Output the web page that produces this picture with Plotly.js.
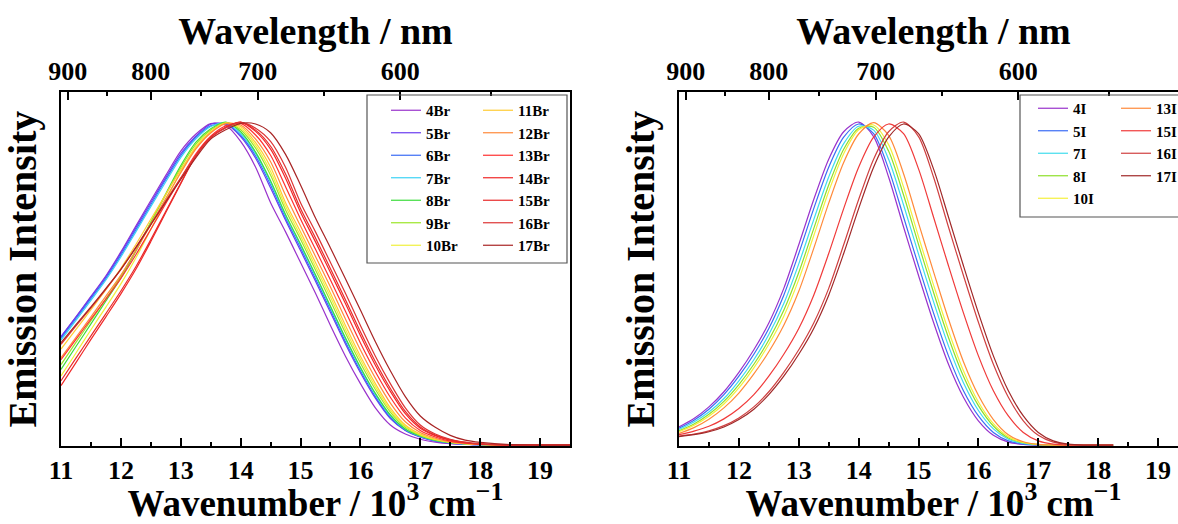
<!DOCTYPE html>
<html><head><meta charset="utf-8">
<script src="https://cdn.plot.ly/plotly-3.0.1.min.js"></script>
<style>html,body{margin:0;padding:0;overflow:hidden;background:#fff}#chart{width:1200px;height:524px}</style>
</head><body><div id="chart"></div>
<script>
// ---------- data (normalised emission intensity vs wavenumber / 10^3 cm^-1) ----------
const wnBr = [11,11.25,11.5,11.75,12,12.25,12.5,12.75,13,13.25,13.5,13.75,14,14.25,14.5,14.75,15,15.25,15.5,15.75,16,16.25,16.5,16.75,17,17.25,17.5,17.75,18,18.5,19,19.5];
const namesBr = ['4Br','5Br','6Br','7Br','8Br','9Br','10Br','11Br','12Br','13Br','14Br','15Br','16Br','17Br'];
const colorsBr = ['#9932cc','#6a3cf0','#3a6cf5','#3cd2f5','#3cdc3c','#9be628','#f0f03c','#ffcc33','#ff8a3a','#ff3030','#f02828','#e82a2a','#dd3434','#a82424'];
const br4  = [.335,.397,.46,.524,.598,.678,.757,.835,.91,.962,.995,.99,.94,.86,.75,.66,.565,.47,.37,.275,.19,.115,.062,.034,.018,.009,.004,.002,.001,0,0,0];
const br5  = [.335,.396,.458,.521,.594,.673,.751,.828,.902,.956,.993,.994,.955,.888,.796,.696,.602,.507,.41,.313,.224,.145,.082,.045,.024,.012,.006,.003,.001,0,0,0];
const br6  = [.330,.391,.453,.516,.588,.666,.744,.822,.896,.952,.988,.995,.959,.895,.805,.703,.610,.515,.418,.320,.230,.150,.086,.046,.026,.013,.006,.003,.001,0,0,0];
const br7  = [.325,.386,.448,.511,.582,.660,.738,.815,.89,.947,.986,.997,.964,.902,.813,.71,.618,.523,.426,.328,.237,.157,.09,.049,.027,.014,.007,.003,.0015,0,0,0];
const br8  = [.234,.305,.375,.446,.517,.60,.69,.778,.865,.937,.979,1.0,.97,.907,.818,.714,.622,.527,.43,.332,.241,.16,.093,.05,.028,.0145,.007,.0035,.0015,0,0,0];
const br9  = [.249,.318,.385,.453,.522,.603,.69,.775,.859,.931,.975,.998,.976,.919,.835,.728,.637,.542,.446,.347,.254,.172,.102,.055,.03,.016,.008,.004,.002,0,0,0];
const br10 = [.214,.285,.357,.427,.499,.579,.668,.758,.846,.925,.971,.997,.981,.928,.847,.739,.648,.553,.458,.358,.265,.181,.108,.058,.032,.017,.009,.004,.002,0,0,0];
const br11 = [.297,.358,.419,.481,.547,.621,.699,.776,.852,.92,.969,.996,.986,.936,.86,.75,.66,.565,.47,.37,.275,.19,.115,.062,.034,.018,.009,.004,.002,0,0,0];
const br12 = [.27,.333,.397,.461,.526,.602,.683,.764,.843,.916,.966,.995,.991,.947,.877,.773,.678,.584,.489,.39,.294,.207,.13,.072,.039,.021,.01,.005,.002,0,0,0];
const br13 = [.264,.327,.39,.452,.516,.589,.668,.748,.826,.901,.956,.988,.996,.96,.897,.8,.7,.606,.511,.414,.316,.227,.148,.084,.045,.025,.012,.006,.003,0,0,0];
const br14 = [.184,.255,.327,.397,.468,.544,.63,.72,.809,.895,.952,.984,.999,.971,.916,.826,.721,.629,.534,.438,.339,.247,.166,.097,.052,.029,.015,.007,.003,0,0,0];
const br15 = [.199,.269,.338,.407,.477,.552,.636,.724,.811,.895,.952,.983,1.0,.975,.925,.839,.732,.641,.546,.45,.351,.258,.175,.104,.056,.031,.016,.008,.003,0,0,0];
const br16 = [.312,.369,.425,.483,.544,.612,.684,.756,.827,.895,.952,.982,.999,.981,.94,.86,.75,.66,.565,.47,.37,.275,.19,.115,.062,.034,.018,.009,.004,0,0,0];
const br17 = [.317,.373,.428,.485,.544,.611,.682,.753,.822,.889,.947,.976,.996,.994,.967,.9,.805,.703,.61,.515,.418,.32,.23,.15,.09,.055,.03,.015,.008,.001,0,0];
const seriesBr = [br4,br5,br6,br7,br8,br9,br10,br11,br12,br13,br14,br15,br16,br17];

const wnI = [11,11.25,11.5,11.75,12,12.25,12.5,12.75,13,13.25,13.5,13.75,14,14.25,14.5,14.75,15,15.25,15.5,15.75,16,16.25,16.5,16.75,17,17.25,17.5,17.75,18,18.25];
const namesI = ['4I','5I','7I','8I','10I','13I','15I','16I','17I'];
const colorsI = ['#9932cc','#3a6cf5','#40dced','#8ee02a','#f5f03c','#ff8a3a','#f03a3a','#d04040','#a02828'];
const i4  = [.056,.082,.118,.165,.225,.295,.378,.485,.62,.76,.885,.97,1.0,.955,.83,.675,.525,.38,.25,.148,.075,.03,.009,.002,0,0,0,0,0,0];
const i5  = [.052,.077,.111,.156,.213,.281,.361,.464,.593,.732,.86,.953,.994,.964,.855,.706,.555,.409,.276,.168,.09,.039,.013,.003,0,0,0,0,0,0];
const i7  = [.048,.071,.102,.144,.199,.264,.342,.438,.561,.698,.83,.933,.987,.975,.885,.743,.591,.444,.307,.193,.107,.05,.018,.005,.001,0,0,0,0,0];
const i8  = [.044,.065,.095,.135,.187,.25,.325,.417,.534,.67,.805,.916,.981,.984,.91,.774,.621,.473,.333,.213,.122,.059,.022,.007,.001,0,0,0,0,0];
const i10 = [.041,.061,.089,.127,.177,.239,.312,.399,.512,.648,.785,.902,.976,.991,.93,.799,.645,.496,.354,.23,.133,.066,.026,.008,.002,0,0,0,0,0];
const i13 = [.036,.054,.08,.115,.161,.22,.289,.371,.476,.609,.749,.875,.963,.998,.959,.84,.687,.537,.39,.258,.154,.079,.032,.01,.002,0,0,0,0,0];
const i15 = [.032,.043,.058,.081,.113,.156,.213,.281,.361,.464,.593,.732,.86,.953,.994,.964,.855,.706,.555,.409,.276,.168,.09,.039,.013,.003,0,0,0,0];
const i16 = [.028,.034,.044,.06,.084,.118,.165,.225,.295,.378,.485,.62,.76,.885,.97,1.0,.955,.83,.675,.525,.38,.25,.148,.075,.03,.009,.002,0,0,0];
const i17 = [.026,.032,.041,.056,.079,.111,.156,.213,.281,.361,.464,.593,.732,.86,.953,.994,.964,.855,.706,.555,.409,.276,.168,.09,.039,.013,.003,0,0,0];
const seriesI = [i4,i5,i7,i8,i10,i13,i15,i16,i17];

// ticks
const wnTicks = [11,12,13,14,15,16,17,18,19];
const wnMinor = [11.5,12.5,13.5,14.5,15.5,16.5,17.5,18.5,19.5];
const wlTicks = [900,800,700,600];
const wlMinor = [850,750,650,550];

// ---------- figure ----------
const W = 1200, H = 524;
const FONT = '"Liberation Serif", "Times New Roman", serif';
const traces = [];
seriesBr.forEach((y,k)=>traces.push({type:'scatter',mode:'lines',x:wnBr,y:y,name:namesBr[k],
  line:{color:colorsBr[k],width:1.2,shape:'spline',smoothing:0.8},xaxis:'x',yaxis:'y',legend:k<7?'legend':'legend2'}));
seriesI.forEach((y,k)=>traces.push({type:'scatter',mode:'lines',x:wnI,y:y,name:namesI[k],
  line:{color:colorsI[k],width:1.2,shape:'spline',smoothing:0.8},xaxis:'x3',yaxis:'y2',legend:k<5?'legend3':'legend4'}));
traces.push({type:'scatter',x:[],y:[],xaxis:'x2',yaxis:'y',showlegend:false,hoverinfo:'skip'});
traces.push({type:'scatter',x:[],y:[],xaxis:'x4',yaxis:'y2',showlegend:false,hoverinfo:'skip'});

const toWn = l => 1e4/l;
function bottomAxis(dom, anchor){
  return {domain:dom, anchor:anchor, range:[11,19.5], showline:true, linewidth:2, linecolor:'#000',
    ticks:'inside', ticklen:8, tickwidth:2, tickcolor:'#000', tickmode:'array', tickvals:wnTicks,
    ticktext:wnTicks.map(String), tickfont:{size:26}, showgrid:false, zeroline:false,
    minor:{ticks:'inside', ticklen:4, tickwidth:2, tickcolor:'#000', tickmode:'array', tickvals:wnMinor},
    title:{text:'Wavenumber / 10<sup>3</sup> cm<sup>\u22121</sup>', font:{size:37}, standoff:7}};
}
function topAxis(over, anchor){
  return {overlaying:over, side:'top', anchor:anchor, range:[11,19.5], showline:true, linewidth:2, linecolor:'#000',
    ticks:'inside', ticklen:8, tickwidth:2, tickcolor:'#000', tickmode:'array', tickvals:wlTicks.map(toWn),
    ticktext:wlTicks.map(String), tickfont:{size:26}, showgrid:false, zeroline:false,
    minor:{ticks:'inside', ticklen:4, tickwidth:2, tickcolor:'#000', tickmode:'array', tickvals:wlMinor.map(toWn)},
    title:{text:'Wavelength / nm', font:{size:38}, standoff:0}};
}
function yAxis(anchor){
  return {domain:[1-446/H, 1-92/H], anchor:anchor, range:[-0.003,1.093], showline:true, mirror:true,
    linewidth:2, linecolor:'#000', ticks:'', showticklabels:false, showgrid:false, zeroline:false,
    title:{text:'Emission Intensity', font:{size:40}, standoff:10}};
}
const leg = (x,y)=>({x:x/W, y:1-y/H, xanchor:'left', yanchor:'top', bgcolor:'rgba(0,0,0,0)', borderwidth:0,
  font:{size:15}, itemwidth:30, tracegroupgap:0});

const layout = {
  width:W, height:H, margin:{l:0,r:0,t:0,b:0}, paper_bgcolor:'#fff', plot_bgcolor:'#fff',
  font:{family:FONT, color:'#000', weight:'bold', size:20}, showlegend:true,
  xaxis: bottomAxis([61/W, 570/W], 'y'),
  xaxis2: topAxis('x', 'y'),
  yaxis: yAxis('x'),
  xaxis3: bottomAxis([679/W, 1188/W], 'y2'),
  xaxis4: topAxis('x3', 'y2'),
  yaxis2: yAxis('x3'),
  legend: leg(386, 94), legend2: leg(478, 94),
  legend3: leg(1033, 92), legend4: leg(1116, 92),
  shapes:[
    {type:'rect', xref:'paper', yref:'paper', x0:367/W, x1:567/W, y0:1-263/H, y1:1-95/H, line:{color:'#555',width:1.2}},
    {type:'rect', xref:'paper', yref:'paper', x0:1020/W, x1:1198/W, y0:1-217/H, y1:1-95/H, line:{color:'#555',width:1.2}}
  ]
};
Plotly.newPlot('chart', traces, layout, {displayModeBar:false, staticPlot:true});
</script></body></html>
